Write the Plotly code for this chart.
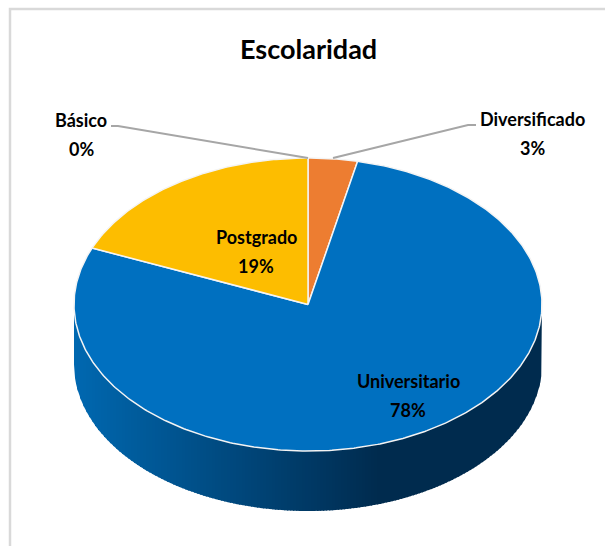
import numpy as np
import plotly.graph_objects as go

# --- data ---
categories = ["Básico", "Diversificado", "Universitario", "Postgrado"]
values = [0.0, 3.4, 77.9, 18.7]
labels_pct = [0, 3, 78, 19]
colors = ["#5b9bd5", "#ed7d31", "#0070c0", "#fdbd00"]

title_text = "Escolaridad"

# pie geometry, in page pixels (the axes run 1:1 with the page)
W, H = 605, 546
CX, CY, RX, RY = 308, 304.5, 234, 146.5
DEPTH = 60

FONT = "Lato, sans-serif"


def rim(theta):
    # theta is measured clockwise from 12 o'clock, in radians
    return CX + RX * np.sin(theta), CY - RY * np.cos(theta)


def wall_color(x):
    # side of the pie: lighter on the left, darkest a bit right of the middle
    t = min(1.0, max(0.0, (x - (CX - RX)) / 306))
    g = int(104 + (43 - 104) * t)
    b = int(176 + (78 - 176) * t)
    return f"rgb(0,{g},{b})"


fig = go.Figure()

# side wall, drawn as thin vertical strips to get the gradient
edges = np.linspace(CX - RX, CX + RX, 157)
for x0, x1 in zip(edges[:-1], edges[1:]):
    xs = np.linspace(x0, min(x1 + 1.2, CX + RX), 5)
    u = np.clip((xs - CX) / RX, -1, 1)
    y_top = CY + RY * np.sqrt(1 - u ** 2)
    px = np.concatenate([xs, xs[::-1]])
    py = np.concatenate([y_top - 3, (y_top + DEPTH)[::-1]])
    fig.add_trace(go.Scatter(
        x=px, y=py, mode="lines", fill="toself",
        fillcolor=wall_color(x0), line=dict(width=0),
        hoverinfo="skip", showlegend=False,
    ))

# top face, slices built from the values
total = sum(values)
start = 0.0
for name, val, col in zip(categories, values, colors):
    end = start + val / total * 2 * np.pi
    if val > 0:
        th = np.linspace(start, end, max(3, int(val * 6)))
        ex, ey = rim(th)
        fig.add_trace(go.Scatter(
            x=np.concatenate([[CX], ex, [CX]]),
            y=np.concatenate([[CY], ey, [CY]]),
            mode="lines", fill="toself", fillcolor=col,
            line=dict(color="#f4f4f4", width=1.5),
            name=name, hoverinfo="name", showlegend=False,
        ))
    start = end

# label positions (centre of each text line, upper and lower)
label_pos = {
    "Básico": (81, 120, 149),
    "Diversificado": (532, 119, 148),
    "Universitario": (408, 381, 410),
    "Postgrado": (256, 237, 266),
}
for name, pct in zip(categories, labels_pct):
    x, y1, y2 = label_pos[name]
    for txt, y in ((name, y1), (f"{pct}%", y2)):
        fig.add_annotation(
            x=x, y=y, text=txt, showarrow=False,
            font=dict(family=FONT, size=18, color="#000000", weight="bold"),
            xanchor="center", yanchor="middle",
        )

fig.add_annotation(
    x=308, y=48, text=title_text, showarrow=False,
    font=dict(family=FONT, size=27, color="#000000", weight="bold"),
    xanchor="center", yanchor="middle",
)

leader = dict(color="#a6a6a6", width=2)
shapes = [
    # chart frame, cut by the page on the right and bottom
    dict(type="path", path=f"M 10 {H} L 10 9 L {W} 9", line=dict(color="#d9d9d9", width=2.5), layer="below"),
    dict(type="path", path="M 111 126 L 118 126 L 308 158", line=leader),
    dict(type="path", path="M 476 125 L 468 125 L 333 158", line=leader),
]

fig.update_layout(
    width=W, height=H,
    margin=dict(l=0, r=0, t=0, b=0),
    paper_bgcolor="white", plot_bgcolor="white",
    xaxis=dict(range=[0, W], visible=False, fixedrange=True),
    yaxis=dict(range=[H, 0], visible=False, fixedrange=True),
    shapes=shapes,
    showlegend=False,
)

# the page's default body margin would shift everything by 8px
fig.write_html(
    "out.html",
    config={"displayModeBar": False},
    post_script="document.body.style.margin='0';",
)
